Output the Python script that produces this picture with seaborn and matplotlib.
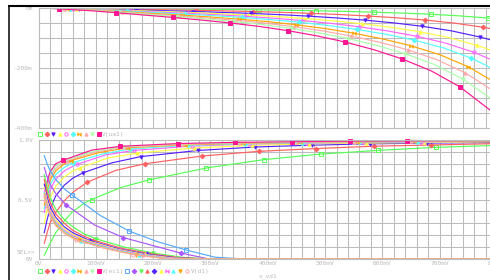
import numpy as np
import pandas as pd
import matplotlib
matplotlib.use("Agg")
import matplotlib.pyplot as plt
from matplotlib.lines import Line2D
import seaborn as sns

# ---------------- data (x in mV of v_vd1) ----------------
# top panel: V(ua1) in mV
ua1_green_x = [10, 85, 135, 185, 235, 285, 335, 385, 435, 485, 535, 585, 635, 685, 735, 785, 800]
ua1_green_y = [0, -0.8, -1.6, -2.4, -3.2, -4, -5, -6.1, -7.6, -9.3, -11.3, -13.9, -17, -20.9, -26.3, -33.6, -36]
ua1_red_x = [10, 75, 125, 175, 225, 275, 325, 375, 425, 475, 525, 575, 625, 675, 725, 775, 800]
ua1_red_y = [0, -1.4, -2.8, -4.4, -6, -7.7, -9.6, -11.8, -14.5, -17.8, -21.8, -26.7, -32.7, -40.2, -50.2, -64, -72]
ua1_blue_x = [10, 70, 120, 170, 220, 270, 320, 370, 420, 470, 520, 570, 620, 670, 720, 770, 800]
ua1_blue_y = [0, -2, -4.1, -6.6, -9.1, -11.7, -14.6, -17.9, -22, -27, -33.1, -40.5, -49.7, -61, -76, -96.7, -111.6]
ua1_yellow_x = [10, 65, 115, 165, 215, 265, 315, 365, 415, 465, 515, 565, 615, 665, 715, 765, 800]
ua1_yellow_y = [0, -2.4, -5.1, -8.4, -11.6, -15, -18.9, -23.2, -28.5, -35, -42.9, -52.5, -64.3, -79, -98.2, -124.6, -147.6]
ua1_magenta_x = [10, 60, 110, 160, 210, 260, 310, 360, 410, 460, 510, 560, 610, 660, 710, 760, 800]
ua1_magenta_y = [0, -2.6, -5.8, -9.8, -13.8, -17.9, -22.5, -27.7, -34, -41.8, -51.2, -62.7, -76.8, -94.2, -116.8, -148, -180]
ua1_cyan_x = [10, 55, 105, 155, 205, 255, 305, 355, 405, 455, 505, 555, 605, 655, 705, 755, 800]
ua1_cyan_y = [0, -2.7, -6.3, -10.9, -15.5, -20.2, -25.5, -31.4, -38.6, -47.4, -58.1, -71.2, -87.2, -106.8, -132.1, -167, -208.8]
ua1_orange_x = [10, 50, 100, 150, 200, 250, 300, 350, 400, 450, 500, 550, 600, 650, 700, 750, 800]
ua1_orange_y = [0, -2.8, -7, -12.6, -18.2, -23.8, -30.1, -37.1, -45.5, -56, -68.6, -84, -102.9, -126, -155.4, -196, -252]
ua1_pink_x = [10, 45, 95, 145, 195, 245, 295, 345, 395, 445, 495, 545, 595, 645, 695, 745, 795, 800]
ua1_pink_y = [0, -2.8, -7.4, -13.6, -19.9, -26.2, -33.3, -41.1, -50.4, -62, -76, -93.1, -114, -139.6, -172.1, -216.6, -278.1, -284.4]
ua1_lgreen_x = [10, 40, 90, 140, 190, 240, 290, 340, 390, 440, 490, 540, 590, 640, 690, 740, 790, 800]
ua1_lgreen_y = [0, -2.8, -7.7, -14.4, -21.5, -28.5, -36.3, -44.9, -55.1, -67.8, -83.1, -101.7, -124.6, -152.6, -188, -236.2, -302.7, -316.8]
ua1_dpink_x = [10, 35, 85, 135, 185, 235, 285, 335, 385, 435, 485, 535, 585, 635, 685, 735, 785, 800]
ua1_dpink_y = [0, -2.8, -8.2, -15.6, -23.6, -31.6, -40.3, -50, -61.4, -75.5, -92.6, -113.4, -138.9, -170.1, -209.4, -262.6, -336, -360]

# bottom panel: V(ec1) in V
ec1_green_x = [10, 15, 20, 30, 45, 60, 80, 93, 143, 193, 293, 393, 493, 593, 693, 800]
ec1_green_y = [.03, .08, .13, .22, .32, .40, .47, .50, .60, .665, .765, .835, .882, .913, .938, .955]
ec1_red_x = [10, 15, 20, 30, 45, 60, 85, 135, 185, 285, 385, 485, 585, 685, 800]
ec1_red_y = [.13, .22, .30, .39, .49, .56, .645, .745, .80, .865, .905, .928, .948, .958, .97]
ec1_blue_x = [10, 15, 20, 30, 45, 60, 78, 128, 178, 278, 378, 478, 578, 678, 800]
ec1_blue_y = [.22, .33, .42, .53, .62, .68, .725, .808, .86, .912, .941, .957, .968, .974, .98]
ec1_yellow_x = [10, 15, 20, 30, 45, 60, 72, 122, 172, 272, 372, 472, 572, 672, 800]
ec1_yellow_y = [.30, .42, .51, .61, .69, .74, .765, .85, .89, .933, .955, .968, .974, .979, .985]
ec1_magenta_x = [10, 15, 20, 30, 45, 60, 67, 117, 167, 267, 367, 467, 567, 667, 800]
ec1_magenta_y = [.39, .50, .58, .67, .74, .78, .795, .875, .913, .949, .966, .974, .979, .984, .99]
ec1_cyan_x = [10, 15, 20, 30, 45, 60, 110, 160, 260, 360, 460, 560, 660, 800]
ec1_cyan_y = [.42, .54, .62, .71, .77, .81, .88, .925, .955, .968, .976, .981, .986, .99]
ec1_orange_x = [10, 15, 20, 30, 45, 56, 106, 156, 256, 356, 456, 556, 656, 800]
ec1_orange_y = [.45, .57, .66, .74, .80, .826, .895, .935, .96, .972, .979, .984, .988, .992]
ec1_pink_x = [10, 15, 20, 30, 40, 50, 100, 150, 250, 350, 450, 550, 650, 800]
ec1_pink_y = [.48, .60, .69, .76, .80, .825, .90, .938, .963, .975, .98, .985, .989, .993]
ec1_lgreen_x = [10, 15, 20, 30, 40, 47, 97, 147, 247, 347, 447, 547, 647, 800]
ec1_lgreen_y = [.50, .63, .71, .78, .81, .83, .907, .944, .967, .977, .983, .987, .991, .994]
ec1_dpink_x = [10, 15, 20, 30, 43, 93, 143, 243, 343, 443, 543, 643, 800]
ec1_dpink_y = [.52, .65, .73, .80, .83, .915, .947, .97, .98, .985, .99, .992, .995]

# bottom panel: V(d1) in V
d1_skyblue_x = [10, 15, 20, 30, 45, 58, 108, 158, 208, 258, 308, 358, 800]
d1_skyblue_y = [.87, .80, .745, .67, .59, .54, .365, .235, .145, .075, .015, 0, 0]
d1_purple_x = [10, 15, 20, 30, 48, 98, 148, 198, 248, 298, 800]
d1_purple_y = [.77, .69, .63, .55, .455, .285, .18, .115, .05, 0, 0]
d1_green_x = [10, 15, 20, 30, 45, 60, 80, 100, 150, 200, 250, 300, 800]
d1_green_y = [.71, .60, .52, .42, .33, .27, .21, .17, .10, .05, .015, 0, 0]
d1_red_x = [10, 15, 20, 30, 45, 60, 80, 95, 145, 195, 245, 295, 800]
d1_red_y = [.67, .56, .48, .38, .30, .24, .19, .16, .09, .045, .012, 0, 0]
d1_blue_x = [10, 15, 20, 30, 45, 60, 80, 90, 140, 190, 240, 290, 800]
d1_blue_y = [.63, .52, .44, .35, .27, .22, .175, .155, .085, .04, .01, 0, 0]
d1_yellow_x = [10, 15, 20, 30, 45, 60, 85, 135, 185, 235, 285, 800]
d1_yellow_y = [.60, .49, .41, .33, .255, .205, .155, .085, .038, .008, 0, 0]
d1_magenta_x = [10, 15, 20, 30, 45, 60, 80, 130, 180, 230, 280, 800]
d1_magenta_y = [.58, .47, .40, .31, .24, .195, .155, .085, .037, .007, 0, 0]
d1_cyan_x = [10, 15, 20, 30, 45, 60, 75, 125, 175, 225, 275, 800]
d1_cyan_y = [.56, .45, .38, .30, .23, .185, .155, .085, .036, .006, 0, 0]
d1_orange_x = [10, 15, 20, 30, 45, 60, 70, 120, 170, 220, 270, 800]
d1_orange_y = [.55, .44, .37, .29, .22, .18, .158, .085, .035, .005, 0, 0]
d1_pink_x = [10, 15, 20, 30, 45, 65, 115, 165, 215, 265, 800]
d1_pink_y = [.54, .43, .36, .28, .215, .16, .09, .037, .006, 0, 0]

top_ticks = [0, -200, -400]
top_ticklabels = ["0m", "-200m", "-400m"]
bot_yticks = [0.0, 0.5, 1.0]
bot_yticklabels = ["0V", "0.5V", "1.0V"]
bot_xticks = [0, 100, 200, 300, 400, 500, 600, 700, 800]
bot_xticklabels = ["0V", "100mV", "200mV", "300mV", "400mV", "500mV", "600mV", "700mV", "800mV"]

# ---------------- style ----------------
C = {"green": "#55ff55", "red": "#ff6060", "blue": "#5522ff", "yellow": "#ffff44",
     "magenta": "#ff66ff", "cyan": "#55ffff", "orange": "#ffa500", "pink": "#ffaaaa",
     "lgreen": "#aaffaa", "dpink": "#ff1493", "skyblue": "#55aaff", "purple": "#aa55ff"}
BOW = [(-1, -1), (-1, 1), (1, -1), (1, 1)]
ec_markers = [("s", False), ("D", True), ("v", True), ("^", True), ("o", False),
              ("D", True), (BOW, True), ("^", True), ("v", True), ("s", True)]
d1_markers = [("s", False), ("D", True), ("v", True), ("^", True), ("D", True),
              ("^", True), (BOW, True), ("^", True), ("v", True), ("o", False)]
# first marker position (mV) of every trace, markers every 100 mV after it
ua1_mark0 = [85, 75, 70, 65, 60, 55, 50, 45, 40, 35]
ec1_mark0 = [93, 85, 78, 72, 67, 60, 56, 50, 47, 43]
d1_mark0 = [58, 48, 100, 95, 90, 85, 80, 75, 70, 65]

ua1 = [("green", ua1_green_x, ua1_green_y), ("red", ua1_red_x, ua1_red_y),
       ("blue", ua1_blue_x, ua1_blue_y), ("yellow", ua1_yellow_x, ua1_yellow_y),
       ("magenta", ua1_magenta_x, ua1_magenta_y), ("cyan", ua1_cyan_x, ua1_cyan_y),
       ("orange", ua1_orange_x, ua1_orange_y), ("pink", ua1_pink_x, ua1_pink_y),
       ("lgreen", ua1_lgreen_x, ua1_lgreen_y), ("dpink", ua1_dpink_x, ua1_dpink_y)]
ec1 = [("green", ec1_green_x, ec1_green_y), ("red", ec1_red_x, ec1_red_y),
       ("blue", ec1_blue_x, ec1_blue_y), ("yellow", ec1_yellow_x, ec1_yellow_y),
       ("magenta", ec1_magenta_x, ec1_magenta_y), ("cyan", ec1_cyan_x, ec1_cyan_y),
       ("orange", ec1_orange_x, ec1_orange_y), ("pink", ec1_pink_x, ec1_pink_y),
       ("lgreen", ec1_lgreen_x, ec1_lgreen_y), ("dpink", ec1_dpink_x, ec1_dpink_y)]
d1 = [("skyblue", d1_skyblue_x, d1_skyblue_y), ("purple", d1_purple_x, d1_purple_y),
      ("green", d1_green_x, d1_green_y), ("red", d1_red_x, d1_red_y),
      ("blue", d1_blue_x, d1_blue_y), ("yellow", d1_yellow_x, d1_yellow_y),
      ("magenta", d1_magenta_x, d1_magenta_y), ("cyan", d1_cyan_x, d1_cyan_y),
      ("orange", d1_orange_x, d1_orange_y), ("pink", d1_pink_x, d1_pink_y)]

sns.set_theme(style="white")
plt.rcParams["font.family"] = ["DejaVu Sans Mono", "DejaVu Sans"]
TXT = "#b8b8b8"
GRID = "#bcbcbc"
FS = 4.4
MS = 2.4

W, H = 490, 280
fig = plt.figure(figsize=(W / 100, H / 100), dpi=100)
fig.patch.set_facecolor("white")


def fx(x):
    return x / W


def fy(y):
    return 1 - y / H


x0, x1 = 38.5, 497.0
ax_top = fig.add_axes([fx(x0), fy(128), (x1 - x0) / W, 120 / H])
ax_bot = fig.add_axes([fx(x0), fy(259), (x1 - x0) / W, 119 / H])


def style_axes(ax):
    ax.set_facecolor("white")
    for s in ax.spines.values():
        s.set_color(GRID)
        s.set_linewidth(0.8)
    ax.set_xlim(0, 800)
    ax.set_xticks(bot_xticks)
    ax.set_xticks(np.arange(0, 801, 20), minor=True)
    ax.grid(True, which="both", color=GRID, linewidth=0.75)
    ax.tick_params(axis="both", which="both", colors=GRID, labelcolor=TXT, labelsize=FS,
                   length=0, pad=1.5)
    ax.tick_params(axis="y", which="major", length=2.5, width=0.6, direction="out")
    ax.set_axisbelow(True)


def draw(ax, series, markers, mark0, clip=True, only_positive=False):
    for (name, xs, ys), (mk, filled), m0 in zip(series, markers, mark0):
        col = C[name]
        marks = [i for i, (xv, yv) in enumerate(zip(xs, ys))
                 if xv >= m0 and (xv - m0) % 100 == 0 and (yv > 0 or not only_positive)]
        sns.lineplot(x=xs, y=ys, ax=ax, color=col, linewidth=0.85, estimator=None, sort=False,
                     marker=mk, markersize=MS, markevery=marks,
                     markerfacecolor=col if filled else "none", markeredgecolor=col,
                     markeredgewidth=0.7, clip_on=clip)


style_axes(ax_top)
ax_top.set_ylim(-400, 0)
ax_top.set_yticks(top_ticks)
ax_top.set_yticklabels(top_ticklabels)
ax_top.set_yticks(np.arange(-400, 1, 50), minor=True)
ax_top.tick_params(axis="x", labelbottom=False)
draw(ax_top, ua1, ec_markers, ua1_mark0)

style_axes(ax_bot)
ax_bot.set_ylim(0, 1.0)
ax_bot.set_yticks(bot_yticks)
ax_bot.set_yticklabels(bot_yticklabels)
ax_bot.set_yticks(np.arange(0, 1.01, 0.1), minor=True)
ax_bot.set_xticklabels(bot_xticklabels)
draw(ax_bot, ec1, ec_markers, ec1_mark0, clip=False)
draw(ax_bot, d1, d1_markers, d1_mark0, clip=False, only_positive=True)
for a in (ax_top, ax_bot):
    a.set_xlabel("")
    a.set_ylabel("")
fig.text(fx(268), fy(276.5), "v_vd1", fontsize=FS, color=TXT, va="center", ha="center")


# legend rows
def legend_row(y, items, markers, xs, label, xlab):
    for (name, _, _), (mk, filled), xp in zip(items, markers, xs):
        col = C[name]
        fig.add_artist(Line2D([fx(xp)], [fy(y)], transform=fig.transFigure, marker=mk,
                              markersize=MS, color=col, markeredgecolor=col,
                              markerfacecolor=col if filled else "none", markeredgewidth=0.7,
                              linestyle="none"))
    fig.text(fx(xlab), fy(y), label, fontsize=FS, color=TXT, va="center", ha="left")


lx = [40, 46.5, 53, 59.5, 66, 72.5, 79, 85.5, 92, 98.5]
legend_row(134, ua1, ec_markers, lx, "V(ua1)", 102)
legend_row(271, ec1, ec_markers, lx, "V(ec1)", 102)
legend_row(271, d1, d1_markers, [127, 133.5, 140.5, 147, 153.5, 160.5, 167, 173, 180, 186.5],
           "V(d1)", 191)

fig.text(fx(35), fy(252.5), "SEL>>", fontsize=FS, color=TXT, va="center", ha="right")

# black window border
fig.add_artist(Line2D([fx(8), 1], [fy(5.8), fy(5.8)], transform=fig.transFigure,
                      color="black", linewidth=1.5, solid_capstyle="butt"))
fig.add_artist(Line2D([fx(8.7), fx(8.7)], [0, fy(5)], transform=fig.transFigure,
                      color="black", linewidth=1.1, solid_capstyle="butt"))

fig.savefig("out.png", dpi=100, facecolor="white")
